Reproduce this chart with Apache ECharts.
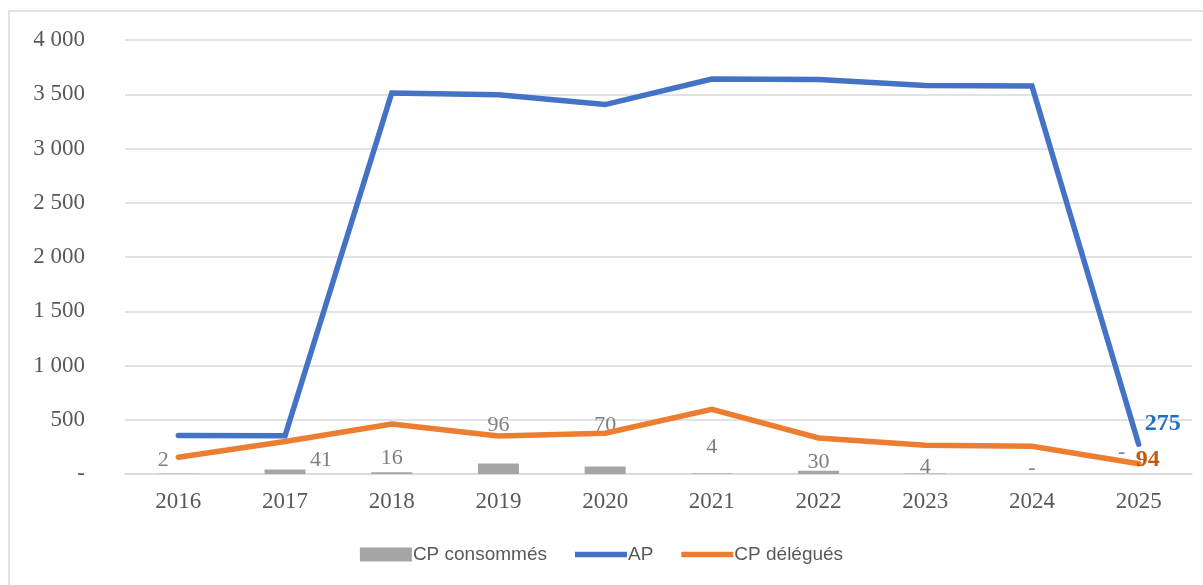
<!DOCTYPE html>
<html>
<head>
<meta charset="utf-8">
<script src="https://cdn.jsdelivr.net/npm/echarts@6/dist/echarts.min.js"></script>
<style>
  html, body { margin: 0; padding: 0; background: #ffffff; }
  #chart { width: 1203px; height: 585px; }
</style>
</head>
<body>
<div id="chart"></div>
<script>
// Années
const years = ['2016', '2017', '2018', '2019', '2020', '2021', '2022', '2023', '2024', '2025'];
// CP consommés
const cpConsommes = [2, 41, 16, 96, 70, 4, 30, 4, 0, 0];
// AP
const ap = [355, 352, 3512, 3495, 3405, 3640, 3637, 3580, 3576, 275];
// CP délégués
const cpDelegues = [155, 300, 460, 350, 376, 597, 332, 265, 255, 94];
// Graduations de l'axe des valeurs
const yTicks = [0, 500, 1000, 1500, 2000, 2500, 3000, 3500, 4000];

const serif = '"Liberation Serif", "Times New Roman", serif';
const sans = '"Liberation Sans", Arial, sans-serif';

function fmtNumber(v) {
  if (v === 0) return '-';
  return String(Math.round(v)).replace(/\B(?=(\d{3})+(?!\d))/g, ' ');
}

// Décalages des étiquettes des barres (placement manuel)
const barLabelShift = [[-15, 1], [36, 6], [0, 1], [0, -23], [0, -26], [0, -11], [0, 6], [0, 9], [0, 9], [-17, -7]];

const lineIcon = 'path://M0,0 h52 v5.5 h-52 z';

const chart = echarts.init(document.getElementById('chart'));

chart.setOption({
  animation: false,
  backgroundColor: '#ffffff',
  graphic: [{
    type: 'rect',
    shape: { x: 9, y: 11, width: 1210, height: 600 },
    style: { fill: 'none', stroke: '#d9d9d9', lineWidth: 1.5 },
    silent: true
  }],
  grid: { left: 125, right: 11, top: 40, bottom: 111 },
  legend: {
    bottom: 16,
    left: 'center',
    itemGap: 28,
    itemWidth: 52,
    itemHeight: 14,
    textStyle: { fontFamily: sans, fontSize: 19, color: '#595959', padding: [0, 0, 0, -4] },
    data: [
      { name: 'CP consommés', icon: 'rect' },
      { name: 'AP', icon: lineIcon },
      { name: 'CP délégués', icon: lineIcon }
    ]
  },
  xAxis: {
    type: 'category',
    data: years,
    axisLine: { lineStyle: { color: '#d9d9d9', width: 1.5 } },
    axisTick: { show: false },
    axisLabel: { fontFamily: serif, fontSize: 23, color: '#595959', margin: 16 }
  },
  yAxis: {
    type: 'value',
    min: yTicks[0],
    max: yTicks[yTicks.length - 1],
    interval: yTicks[1] - yTicks[0],
    axisLine: { show: false },
    axisTick: { show: false },
    splitLine: { lineStyle: { color: '#d9d9d9', width: 1.5 } },
    axisLabel: {
      fontFamily: serif, fontSize: 23, color: '#595959', margin: 40,
      formatter: fmtNumber
    }
  },
  series: [
    {
      name: 'CP consommés',
      type: 'bar',
      barWidth: 41,
      itemStyle: { color: '#a5a5a5' },
      data: cpConsommes.map((v, i) => ({
        value: v,
        label: { offset: barLabelShift[i] }
      })),
      label: {
        show: true,
        position: 'top',
        distance: 4,
        fontFamily: serif,
        fontSize: 22,
        color: '#7f7f7f',
        formatter: p => fmtNumber(p.value)
      },
      z: 1
    },
    {
      name: 'AP',
      type: 'line',
      data: ap.map((v, i) => ({
        value: v,
        label: i === ap.length - 1 ? {
          show: true, position: 'right', distance: 6, offset: [0, -20],
          fontFamily: serif, fontSize: 24, fontWeight: 'bold', color: '#1f6fc5',
          formatter: p => fmtNumber(p.value)
        } : { show: false }
      })),
      showSymbol: true,
      symbol: 'circle',
      symbolSize: 0,
      lineStyle: { color: '#4472c4', width: 5.5, cap: 'round', join: 'miter' },
      itemStyle: { color: '#4472c4' },
      z: 3
    },
    {
      name: 'CP délégués',
      type: 'line',
      data: cpDelegues.map((v, i) => ({
        value: v,
        label: i === cpDelegues.length - 1 ? {
          show: true, position: 'right', distance: 0, offset: [-3, -4],
          fontFamily: serif, fontSize: 24, fontWeight: 'bold', color: '#c55a11',
          formatter: p => fmtNumber(p.value)
        } : { show: false }
      })),
      showSymbol: true,
      symbol: 'circle',
      symbolSize: 0,
      lineStyle: { color: '#ed7d31', width: 5.5, cap: 'round', join: 'miter' },
      itemStyle: { color: '#ed7d31' },
      z: 2
    }
  ]
});
</script>
</body>
</html>
